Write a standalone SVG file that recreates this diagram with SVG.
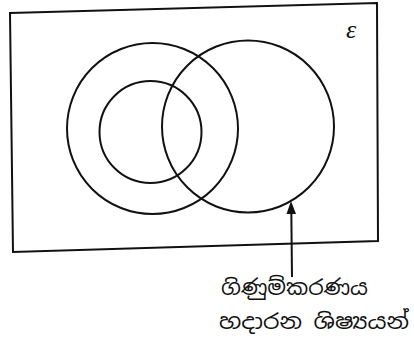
<svg xmlns="http://www.w3.org/2000/svg" width="414" height="344" viewBox="0 0 414 344">
<style>
.ln{fill:none;stroke:#111;stroke-width:2}
.lbl{font-family:"Noto Sans Sinhala","Noto Sans","DejaVu Sans",sans-serif;font-size:21px;fill:#111}
</style>
<rect width="414" height="344" fill="#fff"/>
<g id="universe">
<polygon class="ln" points="10,13 377,3 378,241 13,252"/>
<text x="346" y="38" font-family="Liberation Serif,serif" font-style="italic" font-size="26" fill="#111">ε</text>
</g>
<g id="circle-outer">
<circle class="ln" cx="152.5" cy="128.5" r="85.5"/>
</g>
<g id="circle-inner">
<circle class="ln" cx="150.5" cy="132" r="51"/>
</g>
<g id="circle-accounting">
<circle class="ln" cx="248" cy="126.5" r="86"/>
</g>
<g id="connectors">
<line class="ln" x1="292" y1="277" x2="291.3" y2="210"/>
<polygon points="291,201 286.5,214 296,214" fill="#111"/>
</g>
<g id="label">
<text class="lbl" x="221" y="295" textLength="147" lengthAdjust="spacingAndGlyphs">ගිණුම්කරණය</text>
<text class="lbl" x="219" y="329" textLength="190" lengthAdjust="spacingAndGlyphs">හදාරන ශිෂ්‍යයන්</text>
</g>
</svg>
